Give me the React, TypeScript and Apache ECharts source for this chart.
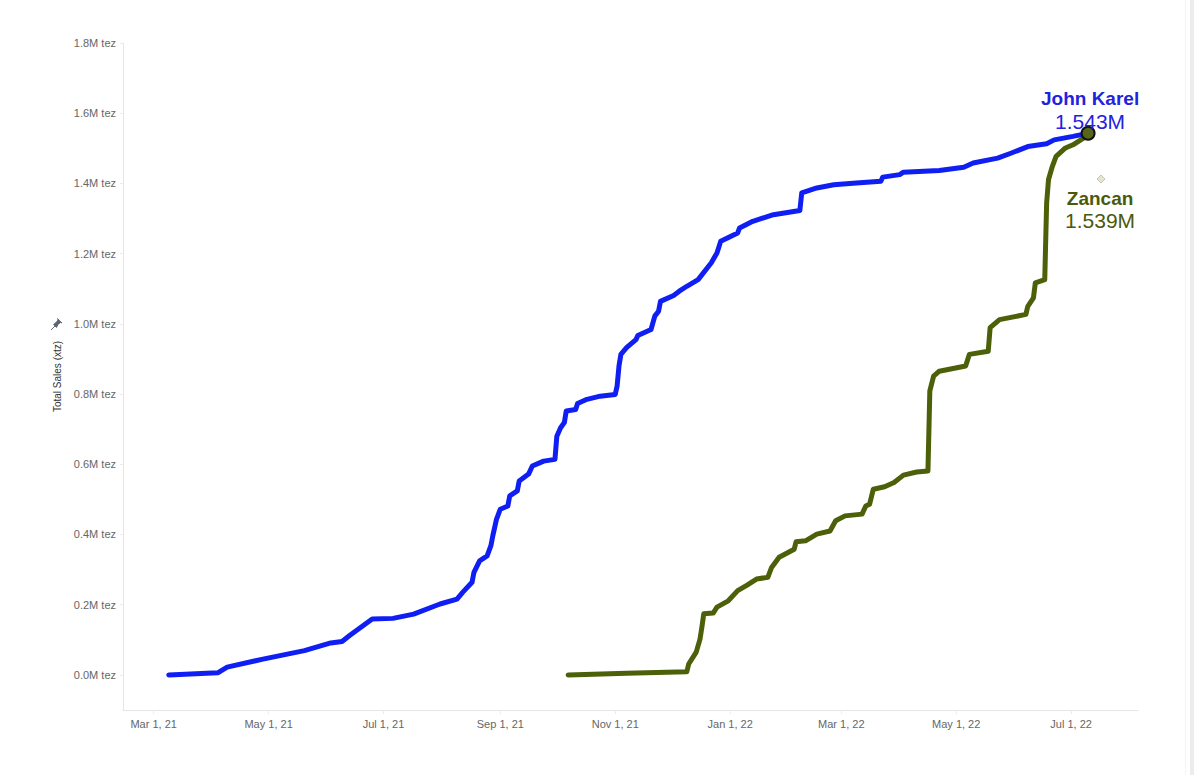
import React, { useEffect, useRef } from "react";
import * as echarts from "echarts";

// ---- data ----
const johnKarelDates = [
  "2021-03-09", "2021-04-04", "2021-04-09", "2021-04-28", "2021-05-20", "2021-06-03", "2021-06-09",
  "2021-06-13", "2021-06-25", "2021-07-06", "2021-07-17", "2021-07-31", "2021-08-09", "2021-08-12",
  "2021-08-17", "2021-08-18", "2021-08-21", "2021-08-25", "2021-08-27", "2021-08-28", "2021-08-30",
  "2021-09-01", "2021-09-05", "2021-09-06", "2021-09-10", "2021-09-11", "2021-09-16", "2021-09-18",
  "2021-09-24", "2021-09-30", "2021-10-01", "2021-10-03", "2021-10-05", "2021-10-06", "2021-10-11",
  "2021-10-12", "2021-10-17", "2021-10-24", "2021-11-01", "2021-11-02", "2021-11-03", "2021-11-04",
  "2021-11-07", "2021-11-12", "2021-11-13", "2021-11-20", "2021-11-22", "2021-11-24", "2021-11-25",
  "2021-12-02", "2021-12-05", "2021-12-09", "2021-12-15", "2021-12-22", "2021-12-25", "2021-12-27",
  "2022-01-05", "2022-01-06", "2022-01-13", "2022-01-24", "2022-02-07", "2022-02-08", "2022-02-16",
  "2022-02-25", "2022-03-09", "2022-03-22", "2022-03-23", "2022-04-01", "2022-04-03", "2022-04-22",
  "2022-05-05", "2022-05-10", "2022-05-23", "2022-05-30", "2022-06-08", "2022-06-18", "2022-06-22",
  "2022-07-02", "2022-07-10",
];
const johnKarelValues = [
  0, 6000, 22000, 45000, 69000, 91000, 95000,
  112000, 159000, 161000, 173000, 202000, 216000, 235000,
  264000, 292000, 325000, 339000, 368000, 396000, 444000,
  472000, 481000, 510000, 524000, 552000, 572000, 595000,
  609000, 614000, 680000, 704000, 719000, 752000, 756000,
  773000, 785000, 794000, 799000, 823000, 880000, 913000,
  932000, 955000, 967000, 984000, 1022000, 1036000, 1064000,
  1081000, 1093000, 1107000, 1126000, 1174000, 1202000, 1235000,
  1259000, 1273000, 1292000, 1311000, 1323000, 1373000, 1387000,
  1396000, 1401000, 1406000, 1418000, 1425000, 1432000, 1437000,
  1446000, 1458000, 1472000, 1486000, 1505000, 1513000, 1524000,
  1534000, 1543000,
];

const zancanDates = [
  "2021-10-07", "2021-11-07", "2021-12-09", "2021-12-10", "2021-12-14", "2021-12-16", "2021-12-17",
  "2021-12-18", "2021-12-23", "2021-12-25", "2021-12-31", "2022-01-05", "2022-01-10", "2022-01-15",
  "2022-01-21", "2022-01-23", "2022-01-27", "2022-02-04", "2022-02-05", "2022-02-10", "2022-02-16",
  "2022-02-23", "2022-02-26", "2022-03-03", "2022-03-12", "2022-03-14", "2022-03-16", "2022-03-18",
  "2022-03-24", "2022-03-29", "2022-04-03", "2022-04-10", "2022-04-16", "2022-04-17", "2022-04-19",
  "2022-04-22", "2022-05-06", "2022-05-08", "2022-05-18", "2022-05-19", "2022-05-24", "2022-06-07",
  "2022-06-08", "2022-06-11", "2022-06-12", "2022-06-17", "2022-06-18", "2022-06-19", "2022-06-21",
  "2022-06-23", "2022-06-28", "2022-07-02", "2022-07-09", "2022-07-10",
];
const zancanValues = [
  0, 5000, 9000, 31000, 65000, 102000, 136000,
  174000, 176000, 193000, 211000, 240000, 256000, 273000,
  278000, 306000, 335000, 358000, 379000, 382000, 401000,
  410000, 439000, 453000, 458000, 481000, 486000, 529000,
  536000, 548000, 569000, 578000, 581000, 809000, 851000,
  865000, 880000, 913000, 922000, 989000, 1012000, 1027000,
  1050000, 1074000, 1117000, 1126000, 1344000, 1411000, 1448000,
  1477000, 1501000, 1510000, 1534000, 1539000,
];

const xTickDates = [
  "2021-03-01", "2021-05-01", "2021-07-01", "2021-09-01", "2021-11-01",
  "2022-01-01", "2022-03-01", "2022-05-01", "2022-07-01",
];
const yTickValues = [0, 200000, 400000, 600000, 800000, 1000000, 1200000, 1400000, 1600000, 1800000];

const MONTHS = ["Jan", "Feb", "Mar", "Apr", "May", "Jun", "Jul", "Aug", "Sep", "Oct", "Nov", "Dec"];
const FONT = "'Liberation Sans', Arial, sans-serif";
const BLUE = "#0f1ff4";
const OLIVE = "#4b6009";
const OLIVE_TEXT = "#4a5a0c";

const toTs = (s: string) => {
  const [y, m, d] = s.split("-").map(Number);
  return Date.UTC(y, m - 1, d);
};
const fmtDate = (v: number) => {
  const d = new Date(v);
  return `${MONTHS[d.getUTCMonth()]} ${d.getUTCDate()}, ${String(d.getUTCFullYear()).slice(2)}`;
};

export default function App() {
  const ref = useRef<HTMLDivElement>(null);
  useEffect(() => {
    const chart = echarts.init(ref.current!, null, { renderer: "svg" });
    const jk = johnKarelDates.map((d, i) => [toTs(d), johnKarelValues[i]]);
    const zc = zancanDates.map((d, i) => [toTs(d), zancanValues[i]]);
    const jkLast = jk[jk.length - 1];
    const zcLast = zc[zc.length - 1];
    const xTicks = xTickDates.map(toTs);

    chart.setOption({
      animation: false,
      backgroundColor: "#ffffff",
      grid: { left: 123, top: 43, width: 1015, height: 667 },
      xAxis: {
        type: "value",
        min: Date.UTC(2021, 1, 12, 17),
        max: Date.UTC(2022, 7, 5, 12),
        axisLine: { show: true, onZero: false, lineStyle: { color: "#e6e6e6", width: 1 } },
        axisTick: { show: true, customValues: xTicks, length: 4, lineStyle: { color: "#ececec" } },
        axisLabel: {
          customValues: xTicks,
          formatter: (v: number) => fmtDate(v),
          color: "#666666",
          fontSize: 11,
          fontFamily: FONT,
          margin: 8,
        },
        splitLine: { show: false },
      },
      yAxis: {
        type: "value",
        min: -100000,
        max: 1800000,
        name: "Total Sales (xtz)",
        nameLocation: "middle",
        nameRotate: 90,
        nameGap: 60,
        nameTextStyle: { color: "#333333", fontSize: 10, fontFamily: FONT },
        axisLine: { show: true, onZero: false, lineStyle: { color: "#e6e6e6", width: 1 } },
        axisTick: { show: true, customValues: yTickValues, length: 3, lineStyle: { color: "#ececec" } },
        axisLabel: {
          customValues: yTickValues,
          formatter: (v: number) => `${(v / 1e6).toFixed(1)}M tez`,
          color: "#666666",
          fontSize: 11,
          fontFamily: FONT,
          margin: 7,
        },
        splitLine: { show: false },
      },
      series: [
        {
          name: "John Karel",
          type: "line",
          data: jk,
          showSymbol: false,
          symbol: "none",
          lineStyle: { color: BLUE, width: 5, cap: "round", join: "round" },
          z: 2,
        },
        {
          name: "Zancan",
          type: "line",
          data: zc,
          showSymbol: false,
          symbol: "none",
          lineStyle: { color: OLIVE, width: 5, cap: "round", join: "round" },
          z: 3,
        },
        {
          name: "Zancan end",
          type: "scatter",
          data: [zcLast],
          symbol: "circle",
          symbolSize: 2,
          itemStyle: { color: OLIVE, opacity: 1 },
          z: 4,
          label: {
            show: true,
            position: "bottom",
            distance: 0,
            offset: [12, 52],
            align: "center",
            color: OLIVE_TEXT,
            opacity: 1,
            formatter: () => `{n|Zancan}\n{v|${(zcLast[1] / 1e6).toFixed(3)}M}`,
            rich: {
              n: { fontSize: 19, fontWeight: "bold", color: OLIVE_TEXT, lineHeight: 22, fontFamily: FONT, align: "center" },
              v: { fontSize: 21, color: OLIVE_TEXT, lineHeight: 22, fontFamily: FONT, align: "center" },
            },
          },
        },
        {
          name: "John Karel end",
          type: "scatter",
          data: [jkLast],
          symbolSize: 13,
          itemStyle: { color: "#56661a", borderColor: "#111111", borderWidth: 2, opacity: 1 },
          z: 5,
          label: {
            show: true,
            position: "top",
            distance: 0,
            offset: [2, 7],
            align: "center",
            formatter: () => `{n|John Karel}\n{v|${(jkLast[1] / 1e6).toFixed(3)}M}`,
            rich: {
              n: { fontSize: 19, fontWeight: "bold", color: "#1f22e0", lineHeight: 23, fontFamily: FONT, align: "center" },
              v: { fontSize: 21, color: "#1f22e0", lineHeight: 23, fontFamily: FONT, align: "center" },
            },
          },
        },
      ],
      graphic: [
        {
          type: "polygon",
          shape: { points: [[1101, 175], [1105, 179], [1101, 183], [1097, 179]] },
          style: { fill: "#e6e4d2", stroke: "#c9c7ae", lineWidth: 1 },
        },
        {
          type: "polygon",
          shape: {
            points: [
              [51, 330], [55, 326], [53.5, 324.5], [56, 322.5], [58, 320], [57.5, 318.5],
              [62, 323], [60.5, 322.5], [58, 324.5], [56.5, 327.5], [55, 326],
            ],
          },
          style: { fill: "#5b6370", stroke: "#5b6370", lineWidth: 0.8 },
        },
        {
          type: "rect",
          shape: { x: 1185, y: 0, width: 1, height: 775 },
          style: { fill: "#f4f4f4" },
        },
        {
          type: "rect",
          shape: { x: 1190, y: 0, width: 4, height: 775 },
          style: { fill: "#ececec" },
        },
      ],
    });
    return () => chart.dispose();
  }, []);
  return (
    <div
      ref={ref}
      style={{ position: "fixed", left: 0, top: 0, width: 1194, height: 775, background: "#ffffff" }}
    />
  );
}
